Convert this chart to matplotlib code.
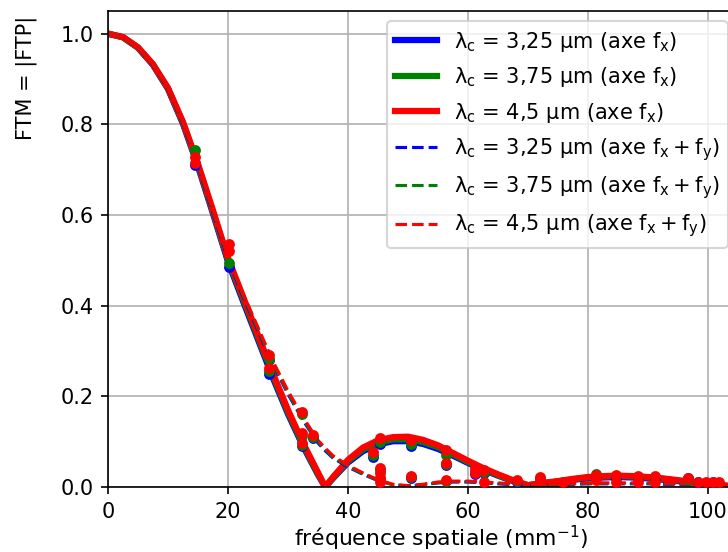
# -*- coding: utf-8 -*-
# FTM (|FTP|) along fx and along the diagonal fx+fy, for three cut-off wavelengths
import numpy as np
import matplotlib
matplotlib.use('Agg')
import matplotlib.pyplot as plt

# ---- data ----
freq = [0, 2.5, 5, 7.5, 10, 12.5, 15, 17.5, 20, 22.5, 25, 27.5, 30, 32.5, 35, 36.2,
        37.5, 40, 42.5, 45, 47.5, 50, 52.5, 55, 57.5, 60, 62.5, 65, 67.5, 70,
        72.5, 75, 77.5, 80, 82.5, 85, 87.5, 90, 92.5, 95, 97.5, 100, 102.5, 105]

# solid curves (axe fx)
ftm_x_325 = [1.0, 0.992, 0.969, 0.931, 0.878, 0.801, 0.707, 0.603, 0.497, 0.410, 0.325, 0.240,
             0.161, 0.090, 0.027, 0.0, 0.019, 0.054, 0.079, 0.094, 0.101, 0.101, 0.095, 0.084,
             0.069, 0.053, 0.038, 0.025, 0.013, 0.003, 0.008, 0.012, 0.016, 0.019, 0.021, 0.022,
             0.021, 0.019, 0.016, 0.013, 0.010, 0.006, 0.003, 0.001]
ftm_x_375 = [1.0, 0.992, 0.969, 0.932, 0.879, 0.803, 0.710, 0.606, 0.501, 0.415, 0.330, 0.245,
             0.165, 0.093, 0.029, 0.0, 0.020, 0.057, 0.083, 0.098, 0.105, 0.105, 0.099, 0.088,
             0.072, 0.055, 0.040, 0.026, 0.014, 0.004, 0.008, 0.012, 0.017, 0.021, 0.023, 0.024,
             0.023, 0.021, 0.018, 0.014, 0.010, 0.007, 0.003, 0.001]
ftm_x_450 = [1.0, 0.9925, 0.970, 0.9325, 0.880, 0.805, 0.7125, 0.610, 0.505, 0.420, 0.335, 0.250,
             0.170, 0.097, 0.032, 0.0, 0.022, 0.060, 0.087, 0.103, 0.110, 0.111, 0.104, 0.092,
             0.075, 0.058, 0.042, 0.028, 0.015, 0.004, 0.009, 0.013, 0.018, 0.022, 0.024, 0.025,
             0.024, 0.022, 0.019, 0.015, 0.011, 0.007, 0.003, 0.001]

# dashed curves (axe fx + fy)
ftm_xy_325 = [1.0, 0.992, 0.969, 0.931, 0.878, 0.801, 0.707, 0.605, 0.503, 0.420, 0.345, 0.270,
              0.205, 0.147, 0.097, 0.080, 0.064, 0.044, 0.028, 0.014, 0.005, 0.002, 0.005, 0.009,
              0.011, 0.011, 0.009, 0.007, 0.005, 0.004, 0.004, 0.005, 0.006, 0.007, 0.007, 0.007,
              0.007, 0.007, 0.006, 0.006, 0.005, 0.005, 0.004, 0.004]
ftm_xy_375 = [1.0, 0.992, 0.969, 0.932, 0.879, 0.803, 0.710, 0.608, 0.507, 0.423, 0.348, 0.273,
              0.208, 0.150, 0.100, 0.083, 0.066, 0.046, 0.029, 0.015, 0.005, 0.002, 0.005, 0.010,
              0.012, 0.012, 0.010, 0.008, 0.006, 0.005, 0.005, 0.006, 0.007, 0.008, 0.008, 0.008,
              0.008, 0.008, 0.007, 0.007, 0.006, 0.006, 0.005, 0.005]
ftm_xy_450 = [1.0, 0.9925, 0.970, 0.9325, 0.880, 0.805, 0.7125, 0.611, 0.510, 0.427, 0.352, 0.277,
              0.212, 0.154, 0.103, 0.086, 0.069, 0.048, 0.031, 0.016, 0.006, 0.003, 0.006, 0.011,
              0.013, 0.013, 0.011, 0.009, 0.007, 0.006, 0.006, 0.007, 0.008, 0.009, 0.009, 0.009,
              0.009, 0.009, 0.008, 0.008, 0.007, 0.007, 0.006, 0.006]

# measured points (scatter)
pts_f_325 = [14.5, 20.1, 26.9, 26.9, 32.3, 34.1, 44.1, 45.4, 50.5, 50.5, 56.4, 61.2, 62.7,
             68.1, 72.0, 81.3, 84.6, 88.3, 91.2, 96.6, 98.4, 100.8]
pts_v_325 = [0.710, 0.486, 0.280, 0.249, 0.090, 0.108, 0.066, 0.095, 0.090, 0.019, 0.048, 0.028,
             0.030, 0.011, 0.017, 0.022, 0.020, 0.019, 0.019, 0.020, 0.010, 0.010]
pts_f_375 = [14.5, 20.1, 26.9, 26.9, 32.3, 32.3, 32.3, 34.1, 44.1, 45.4, 45.4, 45.4, 50.5, 50.5,
             56.4, 56.4, 56.4, 61.2, 62.7, 68.1, 72.0, 81.3, 84.6, 88.3, 91.2, 96.6]
pts_v_375 = [0.743, 0.495, 0.283, 0.255, 0.160, 0.112, 0.092, 0.110, 0.070, 0.100, 0.038, 0.020,
             0.095, 0.022, 0.071, 0.050, 0.013, 0.035, 0.033, 0.013, 0.020, 0.029, 0.024, 0.022,
             0.022, 0.018]
pts_f_450 = [14.5, 14.5, 20.1, 20.1, 26.9, 26.9, 32.3, 32.3, 32.3, 34.1, 44.1, 45.4, 45.4, 45.4,
             45.4, 45.4, 50.5, 50.5, 56.4, 56.4, 56.4, 61.2, 61.2, 62.7, 62.7, 68.1, 72.0, 72.0,
             75.9, 81.3, 81.3, 84.6, 84.6, 88.3, 88.3, 91.2, 91.2, 96.6, 98.4, 99.6, 100.8, 101.8]
pts_v_450 = [0.727, 0.715, 0.537, 0.520, 0.291, 0.262, 0.166, 0.119, 0.097, 0.115, 0.078, 0.107,
             0.041, 0.030, 0.020, 0.011, 0.104, 0.024, 0.082, 0.053, 0.015, 0.041, 0.031, 0.037,
             0.012, 0.015, 0.023, 0.015, 0.012, 0.026, 0.015, 0.026, 0.012, 0.024, 0.012, 0.024,
             0.012, 0.019, 0.012, 0.012, 0.012, 0.012]

labels_x = ['λ$_\\mathrm{c}$ = 3,25 µm (axe f$_\\mathrm{x}$)',
            'λ$_\\mathrm{c}$ = 3,75 µm (axe f$_\\mathrm{x}$)',
            'λ$_\\mathrm{c}$ = 4,5 µm (axe f$_\\mathrm{x}$)']
labels_xy = ['λ$_\\mathrm{c}$ = 3,25 µm (axe f$_\\mathrm{x}+$f$_\\mathrm{y}$)',
             'λ$_\\mathrm{c}$ = 3,75 µm (axe f$_\\mathrm{x}+$f$_\\mathrm{y}$)',
             'λ$_\\mathrm{c}$ = 4,5 µm (axe f$_\\mathrm{x}+$f$_\\mathrm{y}$)']
cols = ['b', 'g', 'r']

# ---- plot ----
fig = plt.figure(figsize=(728/150., 552/150.), dpi=150)
ax = fig.add_axes([108/728., 65/552., 630/728., 476/552.])

for y, lab, c in zip([ftm_x_325, ftm_x_375, ftm_x_450], labels_x, cols):
    ax.plot(freq, y, '-', color=c, lw=3, label=lab)
for y, lab, c in zip([ftm_xy_325, ftm_xy_375, ftm_xy_450], labels_xy, cols):
    ax.plot(freq, y, '--', color=c, lw=1.5, label=lab)

for pf, pv, c in zip([pts_f_325, pts_f_375, pts_f_450], [pts_v_325, pts_v_375, pts_v_450], cols):
    ax.plot(pf, pv, 'o', color=c, markersize=4.2, zorder=3)

ax.set_xlim([0, 105]); ax.set_ylim([0, 1.05])
ax.set_xticks([0, 20, 40, 60, 80, 100])
ax.set_yticks([0.0, 0.2, 0.4, 0.6, 0.8, 1.0])
ax.set_xlabel('fréquence spatiale (mm$^{-1}$)', fontsize=10.5)
ax.set_ylabel('FTM = |FTP|')
ax.xaxis.set_label_coords(0.5286, -0.078)
ax.yaxis.set_label_coords(-0.1127, 0.859)
ax.grid(True)
ax.legend(loc='upper right', labelspacing=0.55)

fig.savefig('out.png', dpi=150)
